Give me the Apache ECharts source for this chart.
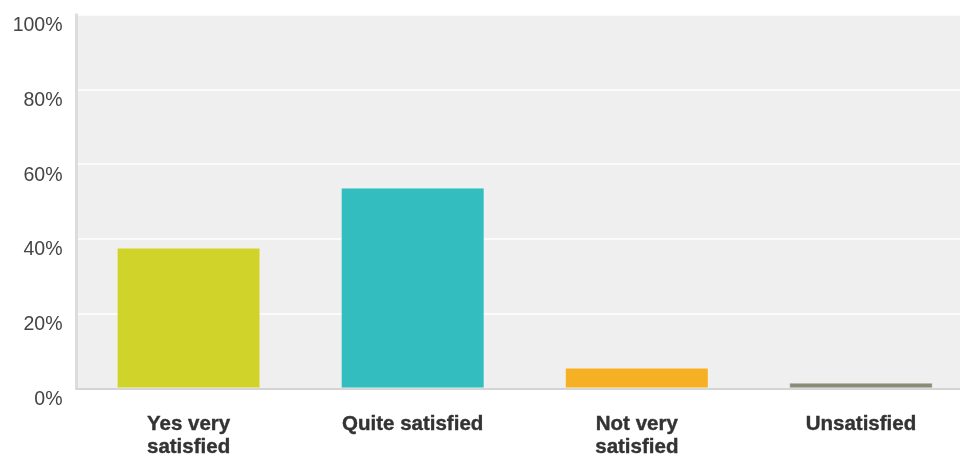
<!DOCTYPE html>
<html>
<head>
<meta charset="utf-8">
<script src="https://cdn.jsdelivr.net/npm/echarts@6/dist/echarts.min.js"></script>
<style>
  html, body { margin: 0; padding: 0; background: #ffffff; overflow: hidden; }
  /* the plot runs a little past the right edge of the window */
  #chart { width: 973px; height: 456px; }
</style>
</head>
<body>
<div id="chart"></div>
<script>
// Survey answers and the share of respondents for each (percent)
const categories = ['Yes very\nsatisfied', 'Quite satisfied', 'Not very\nsatisfied', 'Unsatisfied'];
const shares = [37.6, 53.7, 5.5, 1.5];
const barColors = ['#cfd32a', '#34bdbf', '#f6b024', '#8b8b79'];
const yTicks = [0, 20, 40, 60, 80, 100];

const chart = echarts.init(document.getElementById('chart'), null, { renderer: 'canvas' });

chart.setOption({
  animation: false,
  grid: {
    left: 76.5,
    right: 0,
    top: 14.7,
    bottom: 67.7,
    outerBoundsMode: 'none',
    containLabel: false,
    show: true,
    backgroundColor: '#efefef',
    borderWidth: 0
  },
  xAxis: {
    type: 'category',
    data: categories,
    axisTick: { show: false },
    axisLine: { show: true, lineStyle: { color: '#d4d4d4', width: 2 } },
    axisLabel: {
      interval: 0,
      margin: 25,
      color: '#333333',
      fontFamily: 'Liberation Sans, Arial, sans-serif',
      fontWeight: 'bold',
      fontSize: 20.5,
      lineHeight: 23,
      verticalAlign: 'top',
      textBorderColor: '#333333',
      textBorderWidth: 0.4
    }
  },
  yAxis: {
    type: 'value',
    min: yTicks[0],
    max: yTicks[yTicks.length - 1],
    interval: yTicks[1] - yTicks[0],
    axisLine: { show: true, lineStyle: { color: '#dcdcdc', width: 3 } },
    axisTick: { show: false },
    splitLine: { show: true, lineStyle: { color: '#ffffff', width: 1.5 } },
    axisLabel: {
      margin: 14,
      color: '#444444',
      fontFamily: 'Liberation Sans, Arial, sans-serif',
      fontSize: 19.5,
      verticalAlign: 'top',
      padding: [1, 0, 0, 0],
      formatter: function (v) { return v + '%'; }
    }
  },
  series: [{
    type: 'bar',
    barWidth: '64%',
    data: shares.map(function (v, i) {
      return {
        value: v,
        itemStyle: { color: barColors[i], borderColor: 'rgba(255,255,255,0.35)', borderWidth: 1 }
      };
    })
  }]
});
</script>
</body>
</html>
